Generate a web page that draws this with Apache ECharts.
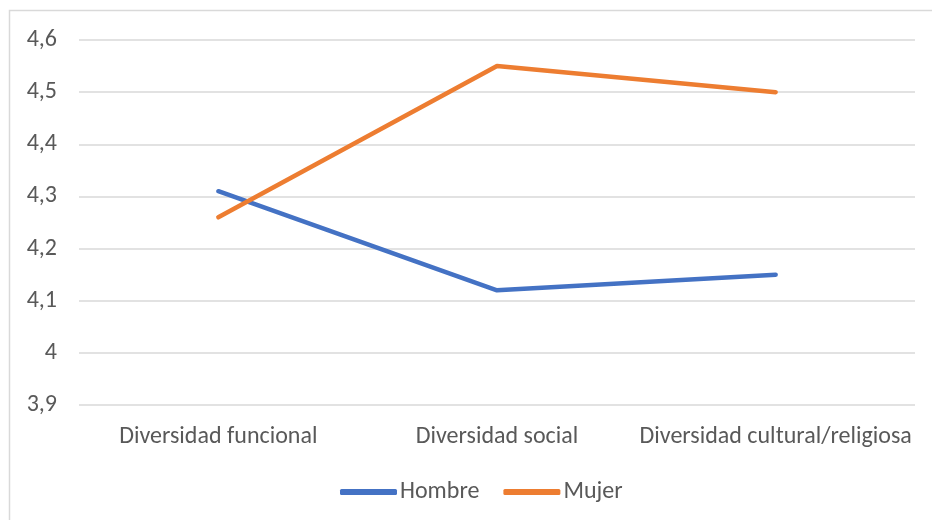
<!DOCTYPE html>
<html>
<head>
<meta charset="utf-8">
<script src="https://cdn.jsdelivr.net/npm/echarts@6/dist/echarts.min.js"></script>
<style>html,body{margin:0;padding:0;background:#fff}#c{width:932px;height:520px}</style>
</head>
<body>
<div id="c"></div>
<script>
const categories = ['Diversidad funcional', 'Diversidad social', 'Diversidad cultural/religiosa'];
const hombre = [4.31, 4.12, 4.15];
const mujer = [4.26, 4.55, 4.50];
const yTicks = [3.9, 4.0, 4.1, 4.2, 4.3, 4.4, 4.5, 4.6];

const FONT = 'Carlito, "Open Sans", "Noto Sans", sans-serif';
const chart = echarts.init(document.getElementById('c'));
chart.setOption({
  animation: false,
  backgroundColor: '#fff',
  textStyle: { fontFamily: FONT },
  graphic: [{
    type: 'rect', silent: true, z: -10,
    shape: { x: 9.5, y: 10.5, width: 940, height: 540 },
    style: { fill: 'none', stroke: '#d9d9d9', lineWidth: 1.5 }
  }],
  grid: { left: 79, right: 17, top: 40, bottom: 115, containLabel: false },
  legend: {
    top: 475, left: 335,
    icon: 'roundRect', itemWidth: 57, itemHeight: 6, itemGap: 24,
    textStyle: { color: '#595959', fontSize: 24, fontFamily: FONT, padding: [0, 0, 0, -2] },
    data: ['Hombre', 'Mujer']
  },
  xAxis: {
    type: 'category', data: categories, boundaryGap: true,
    axisLine: { show: false }, axisTick: { show: false },
    axisLabel: { color: '#595959', fontSize: 24, margin: 20, fontFamily: FONT, interval: 0 }
  },
  yAxis: {
    type: 'value', min: yTicks[0], max: yTicks[yTicks.length - 1], interval: 0.1,
    axisLine: { show: false }, axisTick: { show: false },
    splitLine: { lineStyle: { color: '#d9d9d9', width: 1.5 } },
    axisLabel: {
      color: '#595959', fontSize: 24, margin: 22, fontFamily: FONT,
      formatter: v => String(Math.round(v * 10) / 10).replace('.', ',')
    }
  },
  series: [
    { name: 'Hombre', type: 'line', data: hombre, symbol: 'none',
      itemStyle: { color: '#4472C4' }, lineStyle: { color: '#4472C4', width: 4.5, cap: 'round', join: 'round' } },
    { name: 'Mujer', type: 'line', data: mujer, symbol: 'none',
      itemStyle: { color: '#ED7D31' }, lineStyle: { color: '#ED7D31', width: 4.5, cap: 'round', join: 'round' } }
  ]
});
</script>
</body>
</html>
